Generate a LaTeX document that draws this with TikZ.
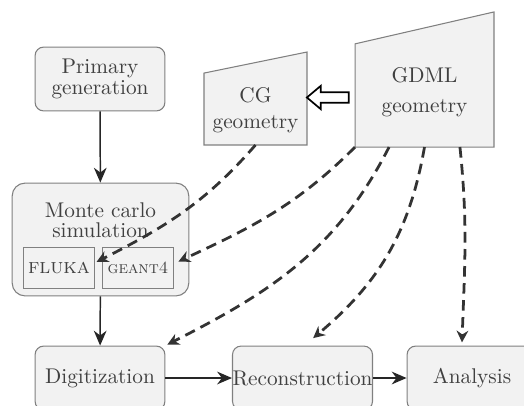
\documentclass[tikz,border=0pt]{standalone}
\usepackage{amsmath}
\usepackage{tikz}
\usetikzlibrary{shapes,arrows.meta,positioning,calc}

\begin{document}
\begin{tikzpicture}[x=0.47pt,y=-0.47pt,
  every node/.style={text=black!75},
  block/.style={draw=black!50,fill=black!5,line width=0.5pt,rounded corners=4pt,
    minimum width=61pt,minimum height=30pt,align=center,inner sep=0pt},
  simbox/.style={draw=black!50,fill=black!5,line width=0.5pt,rounded corners=6pt,
    minimum width=83pt,minimum height=53pt,inner sep=0pt},
  engine/.style={draw=black!50,line width=0.5pt,minimum width=33pt,minimum height=19pt,inner sep=0pt},
  geombox/.style={inner sep=0pt,outer sep=0pt},
  geom/.style={draw=black!50,fill=black!5,line width=0.5pt},
  flow/.style={draw=black!85,line width=0.7pt,-{Stealth[length=7pt,width=6pt]}},
  dep/.style={draw=black!80,line width=1.3pt,dash pattern=on 5pt off 3pt,
    -{Stealth[length=5.5pt,width=5.5pt]}}]
\useasboundingbox (0,0) rectangle (524,405);

% chain of processing steps
\node[block] (primary) at (100,79) {Primary\\[-2pt]generation};
\node[simbox] (sim) at (100.5,239.5) {};
\node[align=center,below=6pt of sim.north] (simtext) {Monte carlo\\[-2.5pt]simulation};
\node[engine] (fluka) at (59,268) {\textsc{fluka}};
\node[engine] (geant) at (138,268) {\footnotesize\textsc{geant4}};
\node[block] (digi) at (100,378) {Digitization};
\node[block,minimum width=62.5pt] (reco) at (302.5,378) {Reconstruction};
\node[block] (ana) at (472,378) {Analysis};

% geometry descriptions
\node[geombox,minimum width=48.4pt,minimum height=43.7pt] (cg) at (255.5,98.5) {};
\node[geombox,minimum width=65.3pt,minimum height=63.5pt] (gdml) at (424.5,79.5) {};
\draw[geom] (cg.south west) -- (cg.south east) -- (cg.north east)
  -- ([yshift=-9.9pt]cg.north west) -- cycle;
\draw[geom] (gdml.south west) -- (gdml.south east) -- (gdml.north east)
  -- ([yshift=-15pt]gdml.north west) -- cycle;
\node[align=center] (cgtext) at ([yshift=-5.5pt]cg.center) {CG\\[0.5pt]geometry};
\node[align=center] (gdmltext) at ([yshift=-6.1pt]gdml.center) {GDML\\[2pt]geometry};

% conversion GDML -> CG
\node[single arrow,draw=black,fill=white,line width=0.8pt,shape border rotate=180,
  minimum height=19.7pt,inner xsep=0pt,inner ysep=2.1pt,
  single arrow head extend=3pt,single arrow tip angle=80] (conv) at (331,97.5) {};

\draw[flow] (primary) -- (sim);
\draw[flow] (sim) -- (digi);
\draw[flow] (digi) -- (reco);
\draw[flow] (reco) -- (ana);

% geometry used by each step
\draw[dep,shorten >=1pt] (cg.south) to[out=-131,in=27] ([yshift=2.4pt]fluka.east);
\draw[dep,shorten >=2.5pt] (gdml.south west) to[out=-135,in=25] ([yshift=2pt]geant.east);
\draw[dep,shorten >=1pt] ($(gdml.south west)!0.245!(gdml.south east)$)
  to[out=-117,in=27] (digi.north east);
\draw[dep] (gdml.south) to[out=-100,in=40] ([xshift=5pt,yshift=3.5pt]reco.north);
\draw[dep] ($(gdml.south west)!0.755!(gdml.south east)$)
  to[out=-84,in=88] ([xshift=-4.7pt,yshift=1.5pt]ana.north);
\end{tikzpicture}
\end{document}
